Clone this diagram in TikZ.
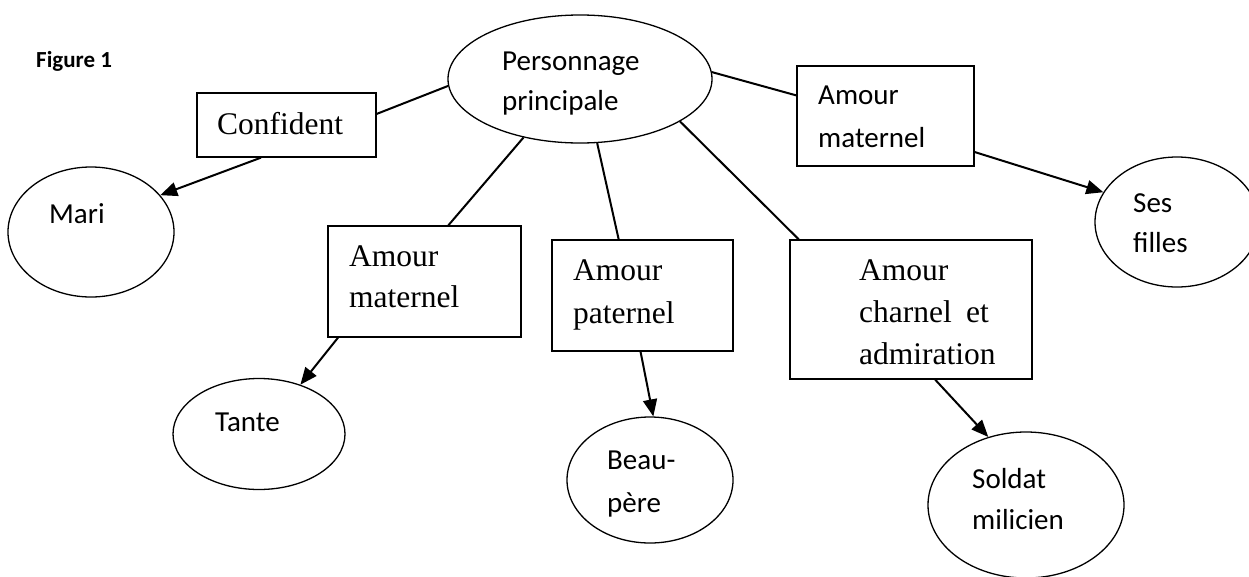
\documentclass[tikz,border=0pt]{standalone}
\usepackage{fontspec}
\setmainfont{Liberation Serif}
\newfontfamily\carl{Carlito}
\usetikzlibrary{shapes.geometric,arrows.meta}
\tikzset{
  ell/.style={draw,ellipse,line width=1.3pt,inner sep=0pt},
  boxn/.style={draw,rectangle,line width=1.3pt,inner sep=0pt},
  link/.style={line width=2pt},
  arr/.style={line width=2pt,-{Triangle[length=17pt,width=14pt]}},
  ctext/.style={anchor=base west,inner sep=0pt,align=left,font=\carl\fontsize{29}{40}\selectfont},
  ttext/.style={anchor=base west,inner sep=0pt,align=left,font=\fontsize{31.5}{42}\selectfont},
}
\begin{document}
\begin{tikzpicture}[x=1pt,y=-1pt]
\clip (0,0) rectangle (1249,576);
\fill[white] (0,0) rectangle (1249,576);
% shapes
\node[ell,minimum width=264pt,minimum height=128pt] (pers) at (580,79) {};
\node[boxn,minimum width=179pt,minimum height=64pt] (conf) at (286.5,125) {};
\node[ell,minimum width=166pt,minimum height=130pt] (mari) at (91,232) {};
\node[boxn,minimum width=193pt,minimum height=111pt] (am1) at (424.5,281.5) {};
\node[ell,minimum width=172pt,minimum height=111pt] (tante) at (259,434) {};
\node[boxn,minimum width=181pt,minimum height=111pt] (ap) at (642.5,295.5) {};
\node[ell,minimum width=166pt,minimum height=126pt] (beau) at (650,480) {};
\node[boxn,minimum width=242pt,minimum height=139pt] (ac) at (911,309.5) {};
\node[ell,minimum width=196pt,minimum height=146pt] (soldat) at (1026,505) {};
\node[boxn,minimum width=177pt,minimum height=100pt] (am2) at (885.5,116) {};
\node[ell,minimum width=164pt,minimum height=130pt] (ses) at (1177,222) {};
% texts (anchor = baseline of the last line)
\node[anchor=base west,inner sep=0pt,font=\carl\bfseries\fontsize{23}{27}\selectfont] (fig) at (36,67) {Figure 1};
\node[ctext] (tpers) at (502,110) {Personnage\\principale};
\node[ttext] (tconf) at (217,134) {Confident};
\node[ctext] (tmari) at (49,223) {Mari};
\node[ttext,font=\fontsize{31.5}{41}\selectfont] (tam1) at (349,307) {Amour\\maternel};
\node[ctext] (ttante) at (215,431) {Tante};
\node[ttext,font=\fontsize{31.5}{43}\selectfont] (tap) at (573,323) {Amour\\paternel};
\node[ctext,font=\carl\fontsize{29}{43}\selectfont] (tbeau) at (607,512) {Beau-\\père};
\node[ttext] (tac) at (859,364) {Amour\\charnel\hspace{0.45em}et\\admiration};
\node[ctext,font=\carl\fontsize{29}{41}\selectfont] (tsoldat) at (972,529) {Soldat\\milicien};
\node[ctext,font=\carl\fontsize{29}{43}\selectfont] (tam2) at (818,147) {Amour\\maternel};
\node[ctext] (tses) at (1133,252) {Ses\\filles};
% connectors
\draw[link] (conf.7) -- (pers.183.5);
\draw[arr] (conf.232.6) -- (mari.28);
\draw[link] (pers.226.8) -- (am1.67.9);
\draw[arr] (am1.213.9) -- (tante.50.4);
\draw[link] (pers.285.7) -- (ap.113.4);
\draw[arr] (ap.268.5) -- (beau.87.3);
\draw[link] (pers.337.1) -- (ac.148.6);
\draw[arr] (ac.289) -- (soldat.119);
\draw[link] (pers.3.9) -- (am2.167.9);
\draw[arr] (am2.-22.1) -- (ses.158.1);
\end{tikzpicture}
\end{document}
